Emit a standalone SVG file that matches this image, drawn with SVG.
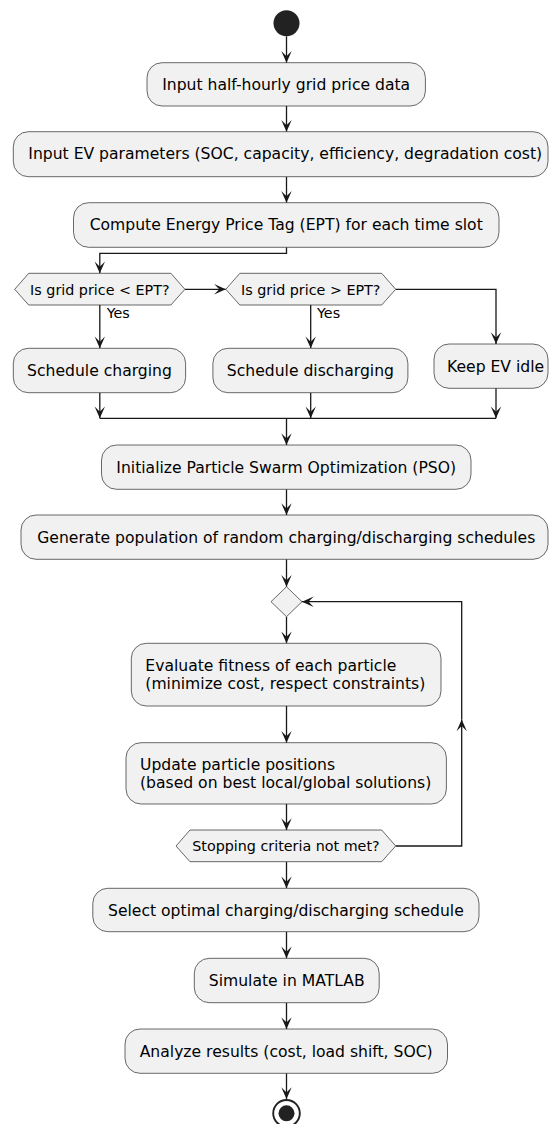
<svg xmlns="http://www.w3.org/2000/svg" width="549" height="1124" viewBox="0 0 549 1124">
<style>
.box{fill:#F1F1F1;stroke:#181818;stroke-width:0.65}
.t{font-family:"DejaVu Sans",sans-serif;font-size:15.6px;fill:#000}
.d{font-family:"DejaVu Sans",sans-serif;font-size:14.3px;fill:#000}
.c{text-anchor:middle}
.ln{fill:none;stroke:#181818;stroke-width:1.3}
</style>
<defs>
<marker id="ah" markerUnits="userSpaceOnUse" markerWidth="14" markerHeight="12" viewBox="-12 -6 13 12" refX="0" refY="0" orient="auto" overflow="visible">
<path d="M0,0 L-11.7,-5.2 L-6.5,0 L-11.7,5.2 Z" fill="#181818"/>
</marker>
</defs>
<rect width="549" height="1124" fill="#FFFFFF"/>
<g id="connectors">
<path class="ln" d="M286.5,36.3 V62.7" marker-end="url(#ah)"/>
<path class="ln" d="M286.5,106 V131.7" marker-end="url(#ah)"/>
<path class="ln" d="M286.5,176.7 V202.7" marker-end="url(#ah)"/>
<path class="ln" d="M286.5,247.3 V253.3 H99.8 V273.3" marker-end="url(#ah)"/>
<path class="ln" d="M184.9,289.3 H225.8" marker-end="url(#ah)"/>
<path class="ln" d="M99.8,305 V348.3" marker-end="url(#ah)"/>
<path class="ln" d="M310.7,305 V348.3" marker-end="url(#ah)"/>
<path class="ln" d="M395.7,289.3 H496 V344" marker-end="url(#ah)"/>
<path class="ln" d="M99.8,392.7 V418.3" marker-end="url(#ah)"/>
<path class="ln" d="M310.7,392.7 V418.3" marker-end="url(#ah)"/>
<path class="ln" d="M496,388.3 V418.3" marker-end="url(#ah)"/>
<path class="ln" d="M99.8,418.3 H496"/>
<path class="ln" d="M286.5,418.3 V445" marker-end="url(#ah)"/>
<path class="ln" d="M286.5,489.3 V515" marker-end="url(#ah)"/>
<path class="ln" d="M286.5,559.3 V586.7" marker-end="url(#ah)"/>
<path class="ln" d="M286.5,616.7 V643.3" marker-end="url(#ah)"/>
<path class="ln" d="M286.5,706 V742.7" marker-end="url(#ah)"/>
<path class="ln" d="M286.5,804 V830" marker-end="url(#ah)"/>
<path class="ln" d="M395.7,846 H461.7 V719.5" marker-end="url(#ah)"/>
<path class="ln" d="M461.7,719.5 V601.7 H302" marker-end="url(#ah)"/>
<path class="ln" d="M286.5,861.7 V888.3" marker-end="url(#ah)"/>
<path class="ln" d="M286.5,931.7 V958.3" marker-end="url(#ah)"/>
<path class="ln" d="M286.5,1002.7 V1029" marker-end="url(#ah)"/>
<path class="ln" d="M286.5,1073.3 V1099" marker-end="url(#ah)"/>
<text class="d" x="106.7" y="318.3">Yes</text>
<text class="d" x="317" y="318.3">Yes</text>
</g>
<g id="start"><circle cx="286.5" cy="23.3" r="13" fill="#222222"/></g>
<g id="n1"><rect class="box" x="147" y="62.7" width="278.4" height="43.3" rx="15"/><text class="t c" x="286.2" y="90.2">Input half-hourly grid price data</text></g>
<g id="n2"><rect class="box" x="13.3" y="131.7" width="534.7" height="45" rx="15"/><text class="t" x="28.3" y="159.3">Input EV parameters (SOC, capacity, efficiency, degradation cost)</text></g>
<g id="n3"><rect class="box" x="73.5" y="202.7" width="425.5" height="44.6" rx="15"/><text class="t c" x="286.2" y="230.3">Compute Energy Price Tag (EPT) for each time slot</text></g>
<g id="d1"><polygon class="box" points="14.7,289.3 28.7,273.3 170.9,273.3 184.9,289.3 170.9,305 28.7,305"/><text class="d c" x="99.8" y="294.5">Is grid price &lt; EPT?</text></g>
<g id="d2"><polygon class="box" points="225.8,289.3 239.8,273.3 381.7,273.3 395.7,289.3 381.7,305 239.8,305"/><text class="d c" x="310.7" y="294.5">Is grid price &gt; EPT?</text></g>
<g id="n4"><rect class="box" x="13.3" y="348.3" width="172.3" height="44.4" rx="15"/><text class="t c" x="99.5" y="376">Schedule charging</text></g>
<g id="n5"><rect class="box" x="212.9" y="348.3" width="195" height="44.4" rx="15"/><text class="t c" x="310.4" y="376">Schedule discharging</text></g>
<g id="n6"><rect class="box" x="434" y="344" width="114" height="44.3" rx="15"/><text class="t" x="447" y="371.6">Keep EV idle</text></g>
<g id="n7"><rect class="box" x="101.5" y="445" width="369.5" height="44.3" rx="15"/><text class="t c" x="286.2" y="472.8">Initialize Particle Swarm Optimization (PSO)</text></g>
<g id="n8"><rect class="box" x="21" y="515" width="527" height="44.3" rx="15"/><text class="t c" x="286.3" y="542.8">Generate population of random charging/discharging schedules</text></g>
<g id="merge"><polygon class="box" points="286.5,586.7 302,601.7 286.5,616.7 271,601.7"/></g>
<g id="n9"><rect class="box" x="131.3" y="643.3" width="309.7" height="62.7" rx="15"/><text class="t" x="145.3" y="670.7">Evaluate fitness of each particle</text><text class="t" x="145.3" y="689.3">(minimize cost, respect constraints)</text></g>
<g id="n10"><rect class="box" x="126" y="742.7" width="320.4" height="61.3" rx="15"/><text class="t" x="140" y="770">Update particle positions</text><text class="t" x="140" y="788.3">(based on best local/global solutions)</text></g>
<g id="d3"><polygon class="box" points="176,846 190,830 381.7,830 395.7,846 381.7,861.7 190,861.7"/><text class="d c" x="285.9" y="851.4">Stopping criteria not met?</text></g>
<g id="n11"><rect class="box" x="92.8" y="888.3" width="386.2" height="43.4" rx="15"/><text class="t c" x="285.9" y="916">Select optimal charging/discharging schedule</text></g>
<g id="n12"><rect class="box" x="194.3" y="958.3" width="184.9" height="44.4" rx="15"/><text class="t c" x="286.7" y="986.4">Simulate in MATLAB</text></g>
<g id="n13"><rect class="box" x="125" y="1029" width="322.5" height="44.3" rx="15"/><text class="t c" x="286.2" y="1057.3">Analyze results (cost, load shift, SOC)</text></g>
<g id="end"><circle cx="286.5" cy="1113.3" r="13.3" fill="none" stroke="#222222" stroke-width="1.9"/><circle cx="286.5" cy="1113.3" r="8" fill="#222222"/></g>
</svg>
